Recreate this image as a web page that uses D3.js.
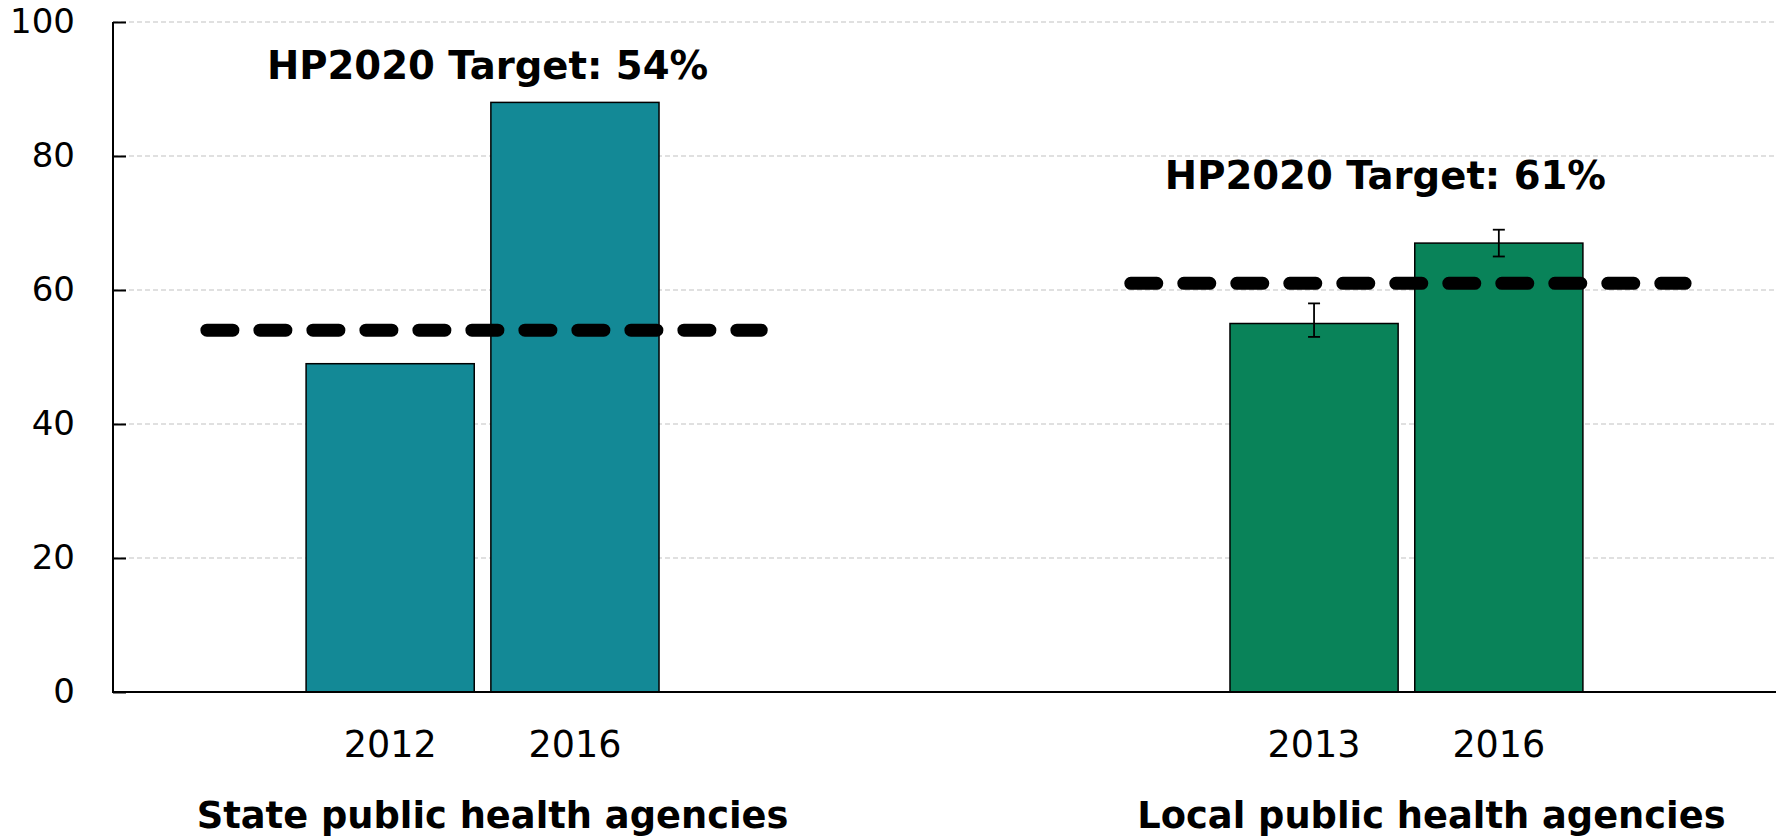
<!DOCTYPE html>
<html><head><meta charset="utf-8">
<script src="https://cdn.jsdelivr.net/npm/d3@7"></script>
<style>body{margin:0;background:#fff;} svg{display:block;}</style>
</head><body>
<svg id="chart" width="1785" height="838"></svg>
<script>
// ---- data ----
const groups = ["State public health agencies", "Local public health agencies"];
const years = ["2012", "2016", "2013", "2016"];
const barGroup = [0, 0, 1, 1];
const values = [49, 88, 55, 67];
const errLow = [null, null, 53, 65];
const errHigh = [null, null, 58, 69];
const targets = [54, 61];
const targetLabels = ["HP2020 Target: 54%", "HP2020 Target: 61%"];
const yTicks = [0, 20, 40, 60, 80, 100];
const colors = ["#138996", "#098359"];

// ---- layout ----
(function () {
const svg = d3.select("#chart");
const mLeft = 113, mRight = 1776, mTop = 22, mBottom = 692;
const slotOf = [1, 2, 6, 7];  // slot positions of bars along the axis
const x = d3.scaleBand().domain(d3.range(9)).range([mLeft, mRight]).paddingInner(0.09).paddingOuter(0.045);
const y = d3.scaleLinear().domain([0, 100]).range([mBottom, mTop]);
const step = x.step();
const barX = i => x(slotOf[i]);
const barCx = i => x(slotOf[i]) + x.bandwidth() / 2;
const groupCx = g => (barCx(g * 2) + barCx(g * 2 + 1)) / 2;

// gridlines
svg.append("g").selectAll("line").data(yTicks.filter(t => t > 0)).join("line")
  .attr("x1", mLeft).attr("x2", mRight)
  .attr("y1", d => y(d)).attr("y2", d => y(d))
  .attr("stroke", "#d6d6d6").attr("stroke-width", 1.5).attr("stroke-dasharray", "5 3");

// y axis
const yAxis = d3.axisLeft(y).tickValues(yTicks).tickSize(-13).tickPadding(38).tickFormat(d3.format("d"));
const ga = svg.append("g").attr("transform", `translate(${mLeft},0)`).call(yAxis);
ga.select(".domain").attr("stroke", "#000").attr("stroke-width", 2).attr("d", `M0,${mTop}V${mBottom}`);
ga.selectAll(".tick line").attr("stroke", "#000").attr("stroke-width", 2);
ga.selectAll(".tick text").attr("font-family", "DejaVu Sans").attr("font-size", 34).attr("fill", "#000");

// bars
svg.append("g").selectAll("rect").data(values).join("rect")
  .attr("x", (d, i) => barX(i)).attr("width", x.bandwidth())
  .attr("y", d => y(d)).attr("height", d => y(0) - y(d))
  .attr("fill", (d, i) => colors[barGroup[i]]).attr("stroke", "#000").attr("stroke-width", 1.5);

// error bars
const eg = svg.append("g").attr("stroke", "#000").attr("stroke-width", 1.8);
values.forEach((v, i) => {
  if (errLow[i] == null) return;
  const cx = barCx(i);
  eg.append("line").attr("x1", cx).attr("x2", cx).attr("y1", y(errLow[i])).attr("y2", y(errHigh[i]));
  eg.append("line").attr("x1", cx - 6).attr("x2", cx + 6).attr("y1", y(errLow[i])).attr("y2", y(errLow[i]));
  eg.append("line").attr("x1", cx - 6).attr("x2", cx + 6).attr("y1", y(errHigh[i])).attr("y2", y(errHigh[i]));
});

// x axis line
svg.append("line").attr("x1", mLeft - 1).attr("x2", mRight).attr("y1", y(0)).attr("y2", y(0))
  .attr("stroke", "#000").attr("stroke-width", 2);

// target dashed lines
svg.append("g").selectAll("line").data(targets).join("line")
  .attr("x1", (d, g) => groupCx(g) - step * 1.5 + 1.5)
  .attr("x2", (d, g) => groupCx(g) + step * 1.5 + 1.5)
  .attr("y1", d => y(d)).attr("y2", d => y(d))
  .attr("stroke", "#000").attr("stroke-width", 13).attr("stroke-linecap", "round")
  .attr("stroke-dasharray", "26 27");

// target labels
const labelDx = [5, -21];
const labelY = [79, 189];
svg.append("g").selectAll("text").data(targetLabels).join("text")
  .attr("x", (d, g) => groupCx(g) + labelDx[g]).attr("y", (d, g) => labelY[g])
  .attr("text-anchor", "middle").attr("font-family", "DejaVu Sans").attr("font-weight", "bold")
  .attr("font-size", 38.6).attr("fill", "#000").text(d => d);

// year labels
svg.append("g").selectAll("text").data(years).join("text")
  .attr("x", (d, i) => barCx(i)).attr("y", 757)
  .attr("text-anchor", "middle").attr("font-family", "DejaVu Sans")
  .attr("font-size", 36.5).attr("fill", "#000").text(d => d);

// group labels
const groupDx = [10, 25];
svg.append("g").selectAll("text").data(groups).join("text")
  .attr("x", (d, g) => groupCx(g) + groupDx[g]).attr("y", 828)
  .attr("text-anchor", "middle").attr("font-family", "DejaVu Sans").attr("font-weight", "bold")
  .attr("font-size", 36.8).attr("fill", "#000").text(d => d);
})();
</script>
</body></html>
